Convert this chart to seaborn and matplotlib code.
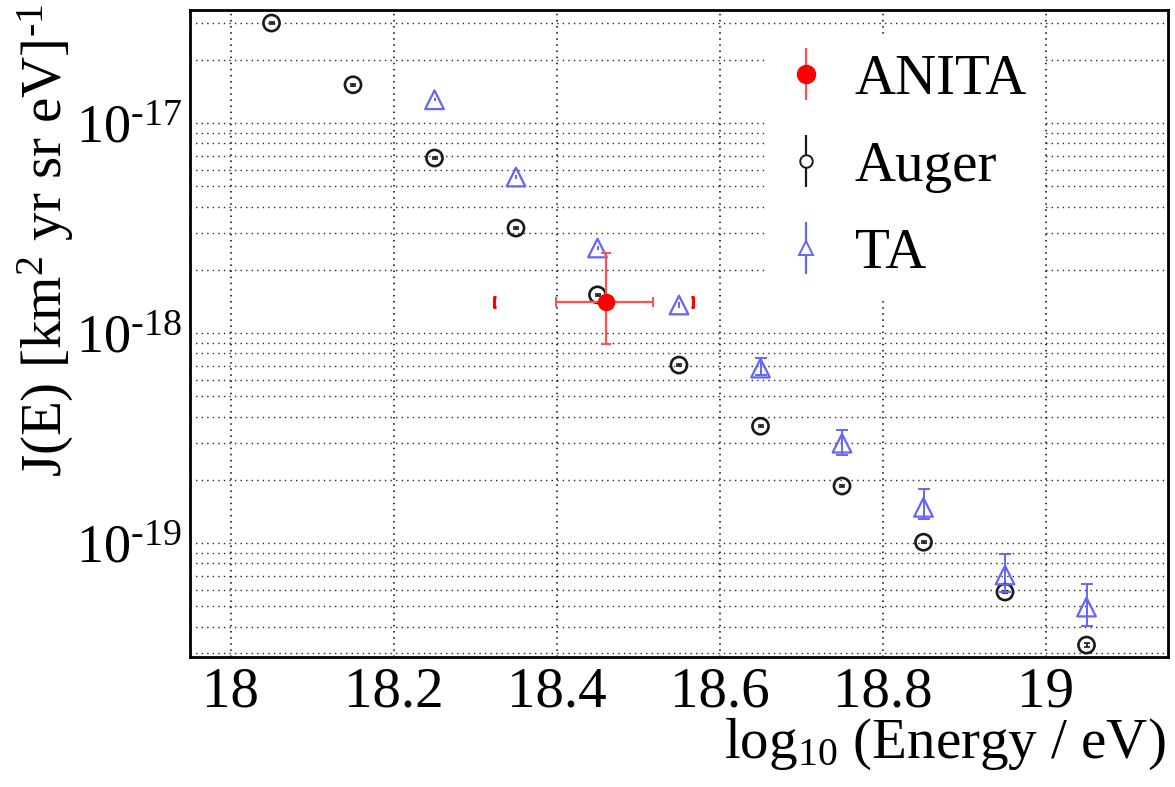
import numpy as np
import pandas as pd
import matplotlib
matplotlib.use("Agg")
import matplotlib.pyplot as plt
import seaborn as sns
from matplotlib.path import Path
from matplotlib.lines import Line2D
from matplotlib.ticker import MultipleLocator, LogLocator, FuncFormatter, NullFormatter

# ---------------- data ----------------
auger_logE = [18.05, 18.15, 18.25, 18.35, 18.45, 18.55, 18.65, 18.75, 18.85, 18.95, 19.05]
auger_J = [2.99e-17, 1.52e-17, 6.81e-18, 3.16e-18, 1.52e-18, 7.04e-19, 3.60e-19,
           1.87e-19, 1.01e-19, 5.85e-20, 3.27e-20]
auger_err = [0.3e-18, 0.15e-18, 0.07e-18, 0.03e-18, 0.015e-18, 0.007e-18, 0.004e-18,
             0.002e-18, 0.0012e-18, 0.0008e-18, 0.0006e-18]

ta_logE = [18.25, 18.35, 18.45, 18.55, 18.65, 18.75, 18.85, 18.95, 19.05]
ta_J = [1.29e-17, 5.53e-18, 2.54e-18, 1.36e-18, 6.81e-19, 2.99e-19, 1.48e-19, 7.05e-20, 4.96e-20]
ta_err_lo = [0.2e-18, 0.1e-18, 0.06e-18, 0.04e-18, 0.5e-19, 0.37e-19, 0.18e-19, 1.2e-20, 0.93e-20]
ta_err_hi = [0.2e-18, 0.1e-18, 0.06e-18, 0.04e-18, 0.8e-19, 0.46e-19, 0.33e-19, 1.82e-20, 1.42e-20]

anita_logE = [18.461]
anita_J = [1.41e-18]
anita_xerr_lo = [0.062]
anita_xerr_hi = [0.057]
anita_yerr_lo = [0.52e-18]
anita_yerr_hi = [0.99e-18]
anita_sys_lo = [0.138]
anita_sys_hi = [0.106]

x_range = [17.95, 19.15]
y_range = [2.87e-20, 3.45e-17]

series_names = ["ANITA", "Auger", "TA"]

# ---------------- style ----------------
sns.set_theme(style="white")
plt.rcParams["font.family"] = ["Liberation Serif", "DejaVu Serif"]
plt.rcParams["mathtext.fontset"] = "custom"
plt.rcParams["mathtext.rm"] = "Liberation Serif"
plt.rcParams["mathtext.it"] = "Liberation Serif:italic"
plt.rcParams["mathtext.bf"] = "Liberation Serif:bold"
plt.rcParams["axes.unicode_minus"] = False
for k in ["text.color", "axes.labelcolor", "xtick.color", "ytick.color"]:
    plt.rcParams[k] = "black"

W, H = 1175, 787
fig = plt.figure(figsize=(W / 100, H / 100), dpi=100)
ax = fig.add_axes([190 / W, 1 - 657 / H, (1168 - 190) / W, (657 - 10) / H])
ax.set_facecolor("white")

red = "#ff0000"
red_line = "#ff5050"
blue = "#6464ff"
black = "#1a1a1a"

FS = 41
HY = "\u2010"  # short hyphen as drawn in the reference

auger_df = pd.DataFrame({"logE": auger_logE, "J": auger_J})
ta_df = pd.DataFrame({"logE": ta_logE, "J": ta_J})
anita_df = pd.DataFrame({"logE": anita_logE, "J": anita_J})

# Auger
ax.errorbar(auger_logE, auger_J, yerr=auger_err, fmt="none", ecolor=black,
            elinewidth=1.2, capsize=2.5, capthick=1.2, zorder=3)
sns.scatterplot(data=auger_df, x="logE", y="J", ax=ax, marker="o", s=135,
                facecolors="none", edgecolor=black, linewidth=1.9, zorder=4)

# TA
n_small = 4
ax.errorbar(ta_logE[:n_small], ta_J[:n_small], yerr=[ta_err_lo[:n_small], ta_err_hi[:n_small]],
            fmt="none", ecolor=blue, elinewidth=1.4, capsize=0, zorder=3)
ax.errorbar(ta_logE[n_small:], ta_J[n_small:], yerr=[ta_err_lo[n_small:], ta_err_hi[n_small:]],
            fmt="none", ecolor=blue, elinewidth=1.4, capsize=4.5, capthick=1.4, zorder=3)
sns.scatterplot(data=ta_df, x="logE", y="J", ax=ax, marker="^", s=180,
                facecolors="none", edgecolor=blue, linewidth=1.6, zorder=4)

# ANITA
ax.errorbar(anita_logE, anita_J, yerr=[anita_yerr_lo, anita_yerr_hi],
            xerr=[anita_xerr_lo, anita_xerr_hi], fmt="none", ecolor=red_line,
            elinewidth=1.6, capsize=3.5, capthick=1.4, zorder=5)
sns.scatterplot(data=anita_df, x="logE", y="J", ax=ax, marker="o", s=160,
                color=red, edgecolor=red, linewidth=0, zorder=6)

# systematic brackets
lb = Path([(0.45, -1), (0, -1), (0, 1), (0.45, 1)],
          [Path.MOVETO, Path.LINETO, Path.LINETO, Path.LINETO])
rb = Path([(-0.45, -1), (0, -1), (0, 1), (-0.45, 1)],
          [Path.MOVETO, Path.LINETO, Path.LINETO, Path.LINETO])
ax.plot(np.array(anita_logE) - np.array(anita_sys_lo), anita_J, linestyle="none",
        marker=lb, markersize=7, markeredgewidth=2.2, color=red, markerfacecolor="none", zorder=5)
ax.plot(np.array(anita_logE) + np.array(anita_sys_hi), anita_J, linestyle="none",
        marker=rb, markersize=7, markeredgewidth=2.2, color=red, markerfacecolor="none", zorder=5)

# ---------------- axes ----------------
ax.set_yscale("log")
ax.set_xlim(*x_range)
ax.set_ylim(*y_range)
ax.xaxis.set_major_locator(MultipleLocator(0.2))
ax.xaxis.set_minor_locator(MultipleLocator(0.05))


def xfmt(v, p):
    if v < x_range[0] - 1e-9 or v > x_range[1] + 1e-9:
        return ""
    return f"{v:g}"


ax.xaxis.set_major_formatter(FuncFormatter(xfmt))
ax.yaxis.set_major_locator(LogLocator(base=10, numticks=20))
ax.yaxis.set_minor_locator(LogLocator(base=10, subs=np.arange(2, 10), numticks=100))


def yfmt(v, p):
    if v < y_range[0] or v > y_range[1]:
        return ""
    e = int(round(np.log10(v)))
    sign = HY if e < 0 else ""
    return r"$\mathregular{10^{%s%d}}$" % (sign, abs(e))


ax.yaxis.set_major_formatter(FuncFormatter(yfmt))
ax.yaxis.set_minor_formatter(NullFormatter())

ax.grid(True, which="major", axis="x", color="black", linestyle=(0, (1, 3)), linewidth=1.1)
ax.grid(True, which="both", axis="y", color="black", linestyle=(0, (1, 3)), linewidth=1.0, alpha=0.85)
ax.set_axisbelow(True)

ax.tick_params(axis="both", which="major", direction="in", labelsize=FS, color="black",
               width=1.5, top=False, right=False)
ax.tick_params(axis="x", which="major", length=14, pad=7)
ax.tick_params(axis="x", which="minor", direction="in", length=7, width=1.2, top=False)
ax.tick_params(axis="y", which="major", length=20, pad=6, labelsize=39)
ax.tick_params(axis="y", which="minor", direction="in", length=7, width=1.2, right=False)
for sp in ax.spines.values():
    sp.set_color("black")
    sp.set_linewidth(2)
    sp.set_visible(True)

ax.set_xlabel("")
ax.set_ylabel("")
fig.text(1166 / W, 1 - 758 / H, r"log$_{\mathregular{10}}$ (Energy / eV)", ha="right",
         va="baseline", fontsize=FS)
fig.text(76 / W, 1 - 4 / H, r"J(E) [km$^{\mathregular{2}}$ yr sr eV]$^{\mathregular{%s1}}$" % HY,
         rotation=90, ha="right", va="top", fontsize=41)

# ---------------- legend ----------------
h_anita = (Line2D([], [], linestyle="none", marker="|", markersize=38, mew=1.6, color=red_line),
           Line2D([], [], linestyle="none", marker="o", markersize=13, color=red, mec=red))
h_auger = (Line2D([], [], linestyle="none", marker="|", markersize=38, mew=1.6, color=black),
           Line2D([], [], linestyle="none", marker="o", markersize=9, mfc="white", mec=black, mew=1.4))
h_ta = (Line2D([], [], linestyle="none", marker="|", markersize=38, mew=1.6, color=blue),
        Line2D([], [], linestyle="none", marker="^", markersize=10, mfc="white", mec=blue, mew=1.4))
leg = ax.legend([h_anita, h_auger, h_ta], series_names, loc="upper left",
                bbox_to_anchor=((738 - 190) / (1168 - 190), 1 - (8 - 10) / (657 - 10)),
                frameon=True, fontsize=FS, handlelength=0.8, handletextpad=0.45,
                labelspacing=0.62, borderpad=0.3, fancybox=False, framealpha=1)
leg.get_frame().set_edgecolor("white")
leg.get_frame().set_facecolor("white")
leg.get_frame().set_linewidth(0)

fig.savefig("out.png", dpi=100)
